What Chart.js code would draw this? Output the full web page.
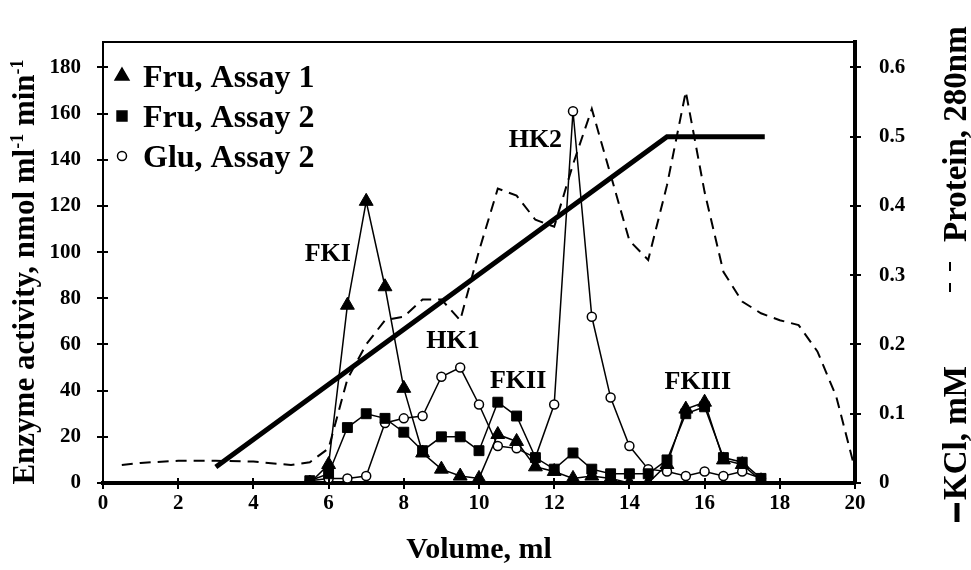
<!DOCTYPE html>
<html>
<head>
<meta charset="utf-8">
<script src="https://cdn.jsdelivr.net/npm/chart.js@4.4.1/dist/chart.umd.min.js"></script>
<style>
  html, body { margin: 0; padding: 0; background: #fff; }
  #wrap { width: 971px; height: 570px; }
</style>
</head>
<body>
<div id="wrap"><canvas id="chart" width="971" height="570"></canvas></div>
<script>
// fractions, ml
const volumes = [5.5, 6, 6.5, 7, 7.5, 8, 8.5, 9, 9.5, 10, 10.5, 11, 11.5, 12,
                 12.5, 13, 13.5, 14, 14.5, 15, 15.5, 16, 16.5, 17, 17.5];
// enzyme activity, nmol ml-1 min-1
const fruAssay1 = [0, 8, 77, 122, 85, 41, 13, 6, 3, 2, 21, 18, 7, 5,
                   2, 3, 2, 0, 0, 8, 32, 35, 10, 8, 1];
const fruAssay2 = [1, 4, 24, 30, 28, 22, 14, 20, 20, 14, 35, 29, 11, 6,
                   13, 6, 4, 4, 4, 10, 30, 33, 11, 9, 2];
const gluAssay2 = [1, 2, 2, 3, 26, 28, 29, 46, 50, 34, 16, 15, 11, 34,
                   161, 72, 37, 16, 6, 5, 3, 5, 3, 5, 2];

// protein, A280 (right axis)
const proteinVolumes = [0.5, 1, 2, 3, 4, 5, 5.5, 6, 6.5, 7, 7.5, 8, 8.5, 9, 9.5, 10,
                        10.5, 11, 11.5, 12, 12.5, 13, 13.5, 14, 14.5, 15, 15.5, 16,
                        16.5, 17, 17.5, 18, 18.5, 19, 19.5, 20];
const protein280 = [0.026, 0.029, 0.032, 0.032, 0.031, 0.026, 0.03, 0.05, 0.15, 0.2, 0.235, 0.24,
                    0.265, 0.265, 0.235, 0.335, 0.425, 0.415, 0.38, 0.37, 0.46, 0.54, 0.445, 0.35,
                    0.322, 0.43, 0.565, 0.42, 0.305, 0.262, 0.245, 0.235, 0.228, 0.19, 0.125, 0.02];

// KCl gradient (right axis)
const kclVolumes = [3, 15, 17.6];
const kclValues = [0.023, 0.5, 0.5];

const volumeTicks = [0, 2, 4, 6, 8, 10, 12, 14, 16, 18, 20];
const activityTicks = [0, 20, 40, 60, 80, 100, 120, 140, 160, 180];
const proteinTicks = [0, 0.1, 0.2, 0.3, 0.4, 0.5, 0.6];

const peakNames = ["FKI", "HK1", "FKII", "HK2", "FKIII"];
const peakVolumes = [5.98, 9.31, 11.04, 11.5, 15.82];
const peakActivity = [99, 61.5, 44, 148.5, 43.7];

const FONT = "'Liberation Serif', 'Times New Roman', serif";
const ACT_MAX = 191;

const toXY = (xs, ys) => xs.map((x, i) => ({ x: x, y: ys[i] }));
const tickList = arr => (s => { s.ticks = arr.map(v => ({ value: v })); });

// legend, peak labels, axis titles, tick marks
const decor = {
    id: "decor",
    afterDraw(chart) {
        const ctx = chart.ctx;
        const a = chart.chartArea;
        const sx = chart.scales.x, sy = chart.scales.y, sy2 = chart.scales.y2;
        ctx.save();
        ctx.strokeStyle = "#000";
        ctx.fillStyle = "#000";

        // top frame
        ctx.lineWidth = 2;
        ctx.beginPath();
        ctx.moveTo(a.left, a.top); ctx.lineTo(a.right + 1, a.top);
        ctx.stroke();

        // tick marks crossing the axes
        ctx.lineWidth = 2;
        ctx.beginPath();
        volumeTicks.forEach(v => {
            const px = Math.round(sx.getPixelForValue(v));
            ctx.moveTo(px, a.bottom - 5); ctx.lineTo(px, a.bottom + 6);
        });
        activityTicks.forEach(v => {
            const py = Math.round(sy.getPixelForValue(v));
            ctx.moveTo(a.left - 6, py); ctx.lineTo(a.left + 5, py);
        });
        proteinTicks.forEach(v => {
            const py = Math.round(sy2.getPixelForValue(v));
            ctx.moveTo(a.right - 5, py); ctx.lineTo(a.right + 6, py);
        });
        ctx.stroke();

        // legend
        const rows = [
            { text: "Fru, Assay 1", style: "triangle", r: 8, fill: "#000" },
            { text: "Fru, Assay 2", style: "rect", r: 7, fill: "#000" },
            { text: "Glu, Assay 2", style: "circle", r: 4.5, fill: "#fff" }
        ];
        rows.forEach((row, i) => {
            const y = 79 + i * 40;
            ctx.fillStyle = row.fill;
            ctx.strokeStyle = "#000";
            ctx.lineWidth = 1.5;
            Chart.helpers.drawPoint(ctx, { pointStyle: row.style, radius: row.r, rotation: 0, borderWidth: 1.5 }, 122, y - 3);
            ctx.fillStyle = "#000";
            ctx.font = "bold 32px " + FONT;
            ctx.textAlign = "left";
            ctx.textBaseline = "middle";
            ctx.fillText(row.text, 143, y);
        });

        // peak labels
        ctx.font = "bold 26px " + FONT;
        ctx.textAlign = "center";
        ctx.textBaseline = "middle";
        peakNames.forEach((name, i) => {
            ctx.fillText(name, sx.getPixelForValue(peakVolumes[i]), sy.getPixelForValue(peakActivity[i]));
        });

        // x title
        ctx.font = "bold 30px " + FONT;
        ctx.fillText("Volume, ml", (a.left + a.right) / 2, 550);

        // left title with superscripts
        const parts = [
            ["Enzyme activity, nmol ml", false],
            ["-1", true],
            [" min", false],
            ["-1", true]
        ];
        const big = "bold 31px " + FONT, small = "bold 18px " + FONT;
        let total = 0;
        parts.forEach(p => { ctx.font = p[1] ? small : big; total += ctx.measureText(p[0]).width; });
        ctx.save();
        ctx.translate(24, 272);
        ctx.rotate(-Math.PI / 2);
        ctx.textAlign = "left";
        ctx.textBaseline = "alphabetic";
        let cx = -total / 2;
        parts.forEach(p => {
            ctx.font = p[1] ? small : big;
            ctx.fillText(p[0], cx, p[1] ? -1 : 10);
            cx += ctx.measureText(p[0]).width;
        });
        ctx.restore();

        // right title: KCl and protein keys
        ctx.save();
        ctx.translate(957, 0);
        ctx.rotate(-Math.PI / 2);
        // rotated frame: x = -pageY, y = pageX - 957
        ctx.lineWidth = 5;
        ctx.beginPath();
        ctx.moveTo(-522, 0); ctx.lineTo(-503, 0);
        ctx.stroke();
        ctx.font = "bold 33px " + FONT;
        ctx.textAlign = "left";
        ctx.textBaseline = "middle";
        ctx.fillText("KCl, mM", -500, 0);
        ctx.lineWidth = 2;
        ctx.beginPath();
        ctx.moveTo(-292, -7); ctx.lineTo(-283, -7);
        ctx.moveTo(-271, -7); ctx.lineTo(-262, -7);
        ctx.stroke();
        ctx.fillText("Protein, 280nm", -242, 0);
        ctx.restore();

        ctx.restore();
    }
};

const tickFont = { family: FONT, size: 21, weight: "bold" };

new Chart(document.getElementById("chart"), {
    type: "line",
    data: {
        datasets: [
            {
                label: "Fru, Assay 1",
                data: toXY(volumes, fruAssay1),
                yAxisID: "y",
                order: 0,
                borderColor: "#000",
                borderWidth: 1.5,
                pointStyle: "triangle",
                pointRadius: 8,
                pointBackgroundColor: "#000",
                pointBorderColor: "#000",
                pointBorderWidth: 1
            },
            {
                label: "Fru, Assay 2",
                data: toXY(volumes, fruAssay2),
                yAxisID: "y",
                order: 1,
                borderColor: "#000",
                borderWidth: 1.5,
                pointStyle: "rect",
                pointRadius: 7,
                pointBackgroundColor: "#000",
                pointBorderColor: "#000",
                pointBorderWidth: 1
            },
            {
                label: "Glu, Assay 2",
                data: toXY(volumes, gluAssay2),
                yAxisID: "y",
                order: 2,
                borderColor: "#000",
                borderWidth: 1.5,
                pointStyle: "circle",
                pointRadius: 4.5,
                pointBackgroundColor: "#fff",
                pointBorderColor: "#000",
                pointBorderWidth: 1.5
            },
            {
                label: "Protein, 280nm",
                data: toXY(proteinVolumes, protein280),
                yAxisID: "y2",
                order: 3,
                borderColor: "#000",
                borderWidth: 2,
                borderDash: [11, 7],
                pointRadius: 0
            },
            {
                label: "KCl, mM",
                data: toXY(kclVolumes, kclValues),
                yAxisID: "y2",
                order: 4,
                borderColor: "#000",
                borderWidth: 5,
                pointRadius: 0
            }
        ]
    },
    options: {
        responsive: false,
        animation: false,
        devicePixelRatio: 1,
        layout: { padding: { top: 42, left: 0, right: 0, bottom: 0 } },
        plugins: { legend: { display: false }, tooltip: { enabled: false } },
        elements: { line: { tension: 0 } },
        scales: {
            x: {
                type: "linear",
                position: "bottom",
                min: 0,
                max: 20,
                afterBuildTicks: tickList(volumeTicks),
                afterFit: s => { s.height = 87; },
                grid: { display: false },
                border: { display: true, color: "#000", width: 4 },
                ticks: { color: "#000", font: tickFont, padding: 0, maxRotation: 0 }
            },
            y: {
                position: "left",
                min: 0,
                max: ACT_MAX,
                afterBuildTicks: tickList(activityTicks),
                afterFit: s => { s.width = 103; },
                grid: { display: false },
                border: { display: true, color: "#000", width: 2 },
                ticks: { color: "#000", font: tickFont, padding: 14 }
            },
            y2: {
                position: "right",
                min: 0,
                max: ACT_MAX / 300,
                afterBuildTicks: tickList(proteinTicks),
                afterFit: s => { s.width = 116; },
                grid: { display: false },
                border: { display: true, color: "#000", width: 4 },
                ticks: {
                    color: "#000",
                    font: tickFont,
                    padding: 16,
                    callback: v => (v === 0 ? "0" : v.toFixed(1))
                }
            }
        }
    },
    plugins: [decor]
});
</script>
</body>
</html>
